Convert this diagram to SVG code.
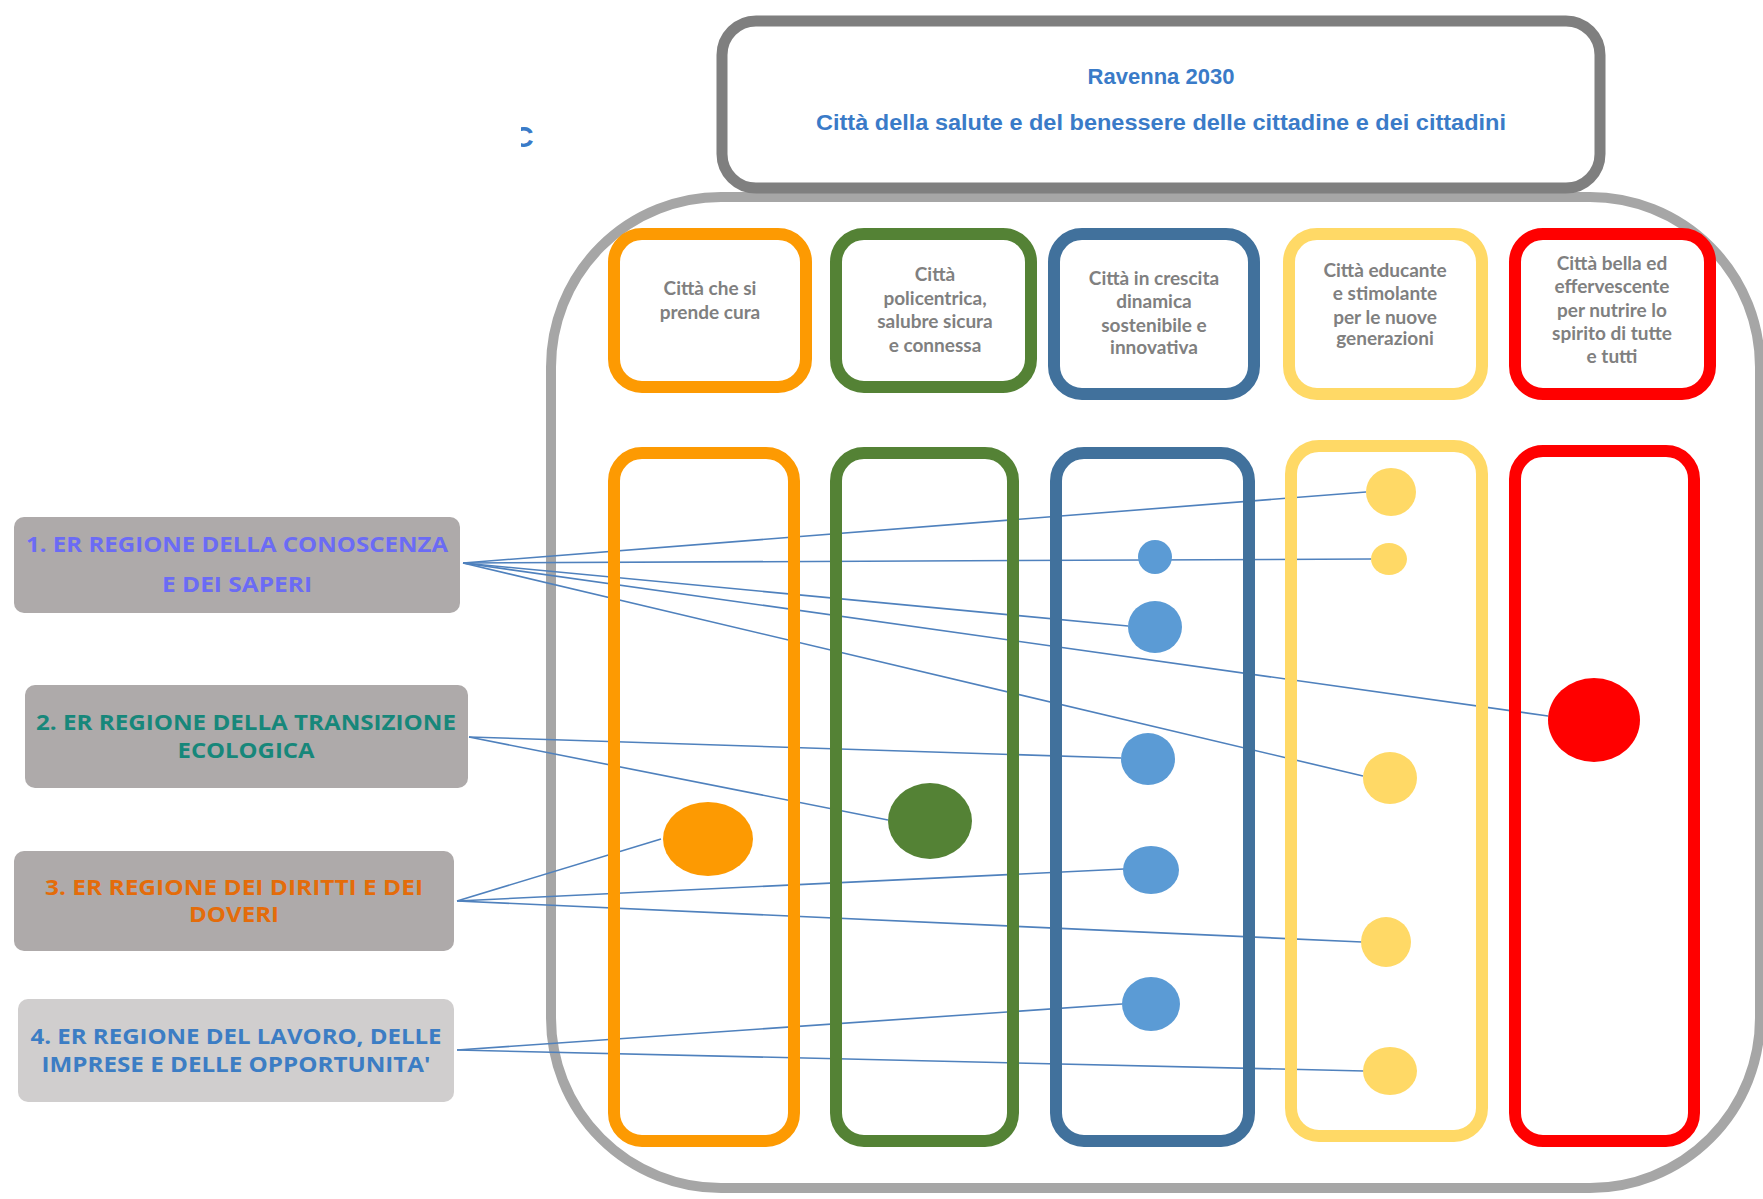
<svg xmlns="http://www.w3.org/2000/svg" width="1763" height="1199" viewBox="0 0 1763 1199">
<style>
.col{fill:none;stroke-width:12}
.or{stroke:#fd9a02}.gr{stroke:#548235}.bl{stroke:#41719c}.ye{stroke:#ffd966}.re{stroke:#ff0000}
.hd{font-family:Lato,"Open Sans",sans-serif;font-weight:bold;font-size:19px;fill:#808080;text-anchor:middle}
.lb{font-family:"Open Sans",Lato,sans-serif;font-weight:bold;font-size:21px;text-anchor:middle}
.ttl{font-family:"Liberation Sans",Arial,sans-serif;font-weight:bold;font-size:22px;fill:#3a7bc8;text-anchor:middle}
.cn{stroke:#4f81bd;stroke-width:1.6;fill:none}
</style>
<defs><clipPath id="cc"><rect x="521" y="110" width="30" height="50"/></clipPath></defs>
<rect width="1763" height="1199" fill="#ffffff"/>
<text x="512" y="147" clip-path="url(#cc)" style="font-family:'Liberation Sans',Arial,sans-serif;font-size:30px;font-weight:bold;fill:#3a7bc8">C</text>
<g id="container"><rect x="551" y="197" width="1209" height="991" rx="170" ry="170" fill="none" stroke="#a6a6a6" stroke-width="10"/></g>
<g id="title">
<rect x="722" y="21" width="878" height="167" rx="34" fill="#ffffff" stroke="#7f7f7f" stroke-width="11"/>
<text class="ttl" x="1161" y="84">Ravenna 2030</text>
<text class="ttl" x="1161" y="130" textLength="690" lengthAdjust="spacingAndGlyphs">Città della salute e del benessere delle cittadine e dei cittadini</text>
</g>
<g id="connectors">
<line class="cn" x1="463" y1="563" x2="1366" y2="492"/>
<line class="cn" x1="463" y1="563" x2="1371" y2="559"/>
<line class="cn" x1="463" y1="563" x2="1128" y2="626"/>
<line class="cn" x1="463" y1="563" x2="1548" y2="716"/>
<line class="cn" x1="463" y1="563" x2="1363" y2="776"/>
<line class="cn" x1="469" y1="737" x2="1121" y2="758"/>
<line class="cn" x1="469" y1="737" x2="888" y2="820"/>
<line class="cn" x1="457" y1="901" x2="661" y2="839"/>
<line class="cn" x1="457" y1="901" x2="1124" y2="869"/>
<line class="cn" x1="457" y1="901" x2="1362" y2="942"/>
<line class="cn" x1="457" y1="1050" x2="1122" y2="1004"/>
<line class="cn" x1="457" y1="1050" x2="1364" y2="1071"/>
</g>
<g id="h1"><rect class="col or" x="614" y="234" width="192" height="153" rx="28"/>
<text class="hd" x="710" y="295">Città che si</text><text class="hd" x="710" y="319">prende cura</text></g>
<g id="h2"><rect class="col gr" x="836" y="234" width="195" height="153" rx="28"/>
<text class="hd" x="935" y="281">Città</text><text class="hd" x="935" y="305">policentrica,</text><text class="hd" x="935" y="328">salubre sicura</text><text class="hd" x="935" y="352">e connessa</text></g>
<g id="h3"><rect class="col bl" x="1054" y="234" width="200" height="160" rx="28"/>
<text class="hd" x="1154" y="285">Città in crescita</text><text class="hd" x="1154" y="308">dinamica</text><text class="hd" x="1154" y="332">sostenibile e</text><text class="hd" x="1154" y="354">innovativa</text></g>
<g id="h4"><rect class="col ye" x="1289" y="234" width="193" height="160" rx="28"/>
<text class="hd" x="1385" y="277">Città educante</text><text class="hd" x="1385" y="300">e stimolante</text><text class="hd" x="1385" y="324">per le nuove</text><text class="hd" x="1385" y="345">generazioni</text></g>
<g id="h5"><rect class="col re" x="1515" y="234" width="195" height="160" rx="28"/>
<text class="hd" x="1612" y="270">Città bella ed</text><text class="hd" x="1612" y="293">effervescente</text><text class="hd" x="1612" y="317">per nutrire lo</text><text class="hd" x="1612" y="340">spirito di tutte</text><text class="hd" x="1612" y="363">e tutti</text></g>
<g id="c1"><rect class="col or" x="614" y="453" width="180" height="688" rx="28"/></g>
<g id="c2"><rect class="col gr" x="836" y="453" width="177" height="688" rx="28"/></g>
<g id="c3"><rect class="col bl" x="1056" y="453" width="193" height="688" rx="28"/></g>
<g id="c4"><rect class="col ye" x="1291" y="446" width="191" height="690" rx="28"/></g>
<g id="c5"><rect class="col re" x="1515" y="451" width="179" height="690" rx="28"/></g>
<g id="dots">
<ellipse cx="1391" cy="492" rx="25" ry="24" fill="#ffd966"/>
<ellipse cx="1389" cy="559" rx="18" ry="16" fill="#ffd966"/>
<ellipse cx="1155" cy="557" rx="17" ry="17" fill="#5b9bd5"/>
<ellipse cx="1155" cy="627" rx="27" ry="26" fill="#5b9bd5"/>
<ellipse cx="1594" cy="720" rx="46" ry="42" fill="#ff0000"/>
<ellipse cx="1148" cy="759" rx="27" ry="26" fill="#5b9bd5"/>
<ellipse cx="1390" cy="778" rx="27" ry="26" fill="#ffd966"/>
<ellipse cx="708" cy="839" rx="45" ry="37" fill="#fd9a02"/>
<ellipse cx="930" cy="821" rx="42" ry="38" fill="#548235"/>
<ellipse cx="1151" cy="870" rx="28" ry="24" fill="#5b9bd5"/>
<ellipse cx="1386" cy="942" rx="25" ry="25" fill="#ffd966"/>
<ellipse cx="1151" cy="1004" rx="29" ry="27" fill="#5b9bd5"/>
<ellipse cx="1390" cy="1071" rx="27" ry="24" fill="#ffd966"/>
</g>
<g id="r1"><rect x="14" y="517" width="446" height="96" rx="10" fill="#aeaaaa"/>
<text class="lb" x="237" y="552" fill="#6b6bf5" textLength="422" lengthAdjust="spacingAndGlyphs">1. ER REGIONE DELLA CONOSCENZA</text>
<text class="lb" x="237" y="592" fill="#6b6bf5" textLength="150" lengthAdjust="spacingAndGlyphs">E DEI SAPERI</text></g>
<g id="r2"><rect x="25" y="685" width="443" height="103" rx="10" fill="#aeaaaa"/>
<text class="lb" x="246" y="730" fill="#17877a" textLength="420" lengthAdjust="spacingAndGlyphs">2. ER REGIONE DELLA TRANSIZIONE</text>
<text class="lb" x="246" y="758" fill="#17877a" textLength="137" lengthAdjust="spacingAndGlyphs">ECOLOGICA</text></g>
<g id="r3"><rect x="14" y="851" width="440" height="100" rx="10" fill="#aeaaaa"/>
<text class="lb" x="234" y="895" fill="#e46c0a" textLength="378" lengthAdjust="spacingAndGlyphs">3. ER REGIONE DEI DIRITTI E DEI</text>
<text class="lb" x="234" y="922" fill="#e46c0a" textLength="90" lengthAdjust="spacingAndGlyphs">DOVERI</text></g>
<g id="r4"><rect x="18" y="999" width="436" height="103" rx="10" fill="#d0cece"/>
<text class="lb" x="236" y="1044" fill="#3c7dc4" textLength="411" lengthAdjust="spacingAndGlyphs">4. ER REGIONE DEL LAVORO, DELLE</text>
<text class="lb" x="236" y="1072" fill="#3c7dc4" textLength="389" lengthAdjust="spacingAndGlyphs">IMPRESE E DELLE OPPORTUNITA'</text></g>
</svg>
